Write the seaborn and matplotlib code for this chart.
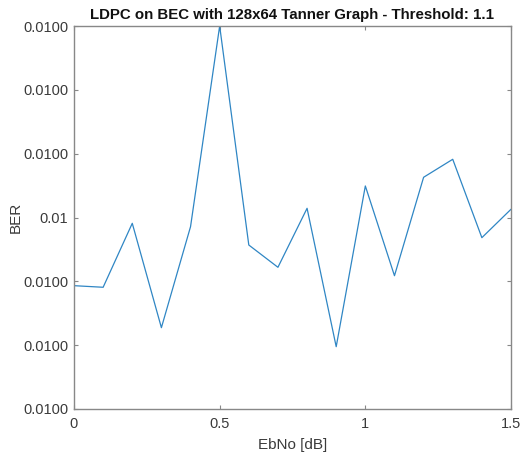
import matplotlib
matplotlib.use("Agg")
import matplotlib.pyplot as plt
import matplotlib.ticker as mticker
import numpy as np
import pandas as pd
import seaborn as sns

# Simulated bit error rate per Eb/No step
ebno_db = [0.0, 0.1, 0.2, 0.3, 0.4, 0.5, 0.6, 0.7, 0.8, 0.9, 1.0, 1.1, 1.2, 1.3, 1.4, 1.5]
ber = [0.0099997864, 0.0099997814, 0.0099999818, 0.0099996548, 0.0099999712,
       0.0100006000, 0.0099999138, 0.0099998440, 0.0100000288, 0.0099995952,
       0.0100000988, 0.0099998176, 0.0100001260, 0.0100001824, 0.0099999368,
       0.0100000258]

y_ticks = [0.0099994, 0.0099996, 0.0099998, 0.0100000, 0.0100002, 0.0100004, 0.0100006]
x_ticks = [0, 0.5, 1, 1.5]
x_tick_labels = ["0", "0.5", "1", "1.5"]

title = "LDPC on BEC with 128x64 Tanner Graph - Threshold: 1.1"

df = pd.DataFrame({"EbNo": ebno_db, "BER": ber})

sns.set_theme(style="white")
plt.rcParams["font.family"] = ["Liberation Sans", "DejaVu Sans"]

fig = plt.figure(figsize=(5.23, 4.57), dpi=100)
ax = fig.add_axes([74 / 523, 1 - 409 / 457, (511 - 74) / 523, (409 - 26) / 457])

sns.lineplot(data=df, x="EbNo", y="BER", ax=ax, color="#2f86c4", linewidth=0.9)

ax.set_xlim(0, 1.5)
ax.set_ylim(y_ticks[0], y_ticks[-1])
ax.set_xticks(x_ticks)
ax.set_xticklabels(x_tick_labels)
ax.set_yticks(y_ticks)


def fmt(v, pos):
    if abs(v - 0.01) < 1e-12:
        return "0.01"
    return f"{v:.4f}"


ax.yaxis.set_major_formatter(mticker.FuncFormatter(fmt))

text_color = "#3a3a3a"
axis_color = "#888888"
for s in ax.spines.values():
    s.set_color(axis_color)
    s.set_linewidth(1.0)
    s.set_visible(True)

ax.tick_params(axis="both", which="major", direction="in", length=3, width=0.8,
               color=axis_color, labelcolor=text_color, labelsize=10.5,
               top=True, right=True, bottom=True, left=True)
ax.tick_params(axis="x", pad=6)
ax.tick_params(axis="y", pad=4)

ax.set_xlabel("EbNo [dB]", fontsize=11, color=text_color, labelpad=5)
ax.set_ylabel("BER", fontsize=11, color=text_color)
ax.yaxis.set_label_coords((23 - 74) / 437, 0.5)
ax.set_title(title, fontsize=10.8, fontweight="bold", color="#111111", pad=5)
ax.grid(False)

fig.savefig("out.png", dpi=100)
